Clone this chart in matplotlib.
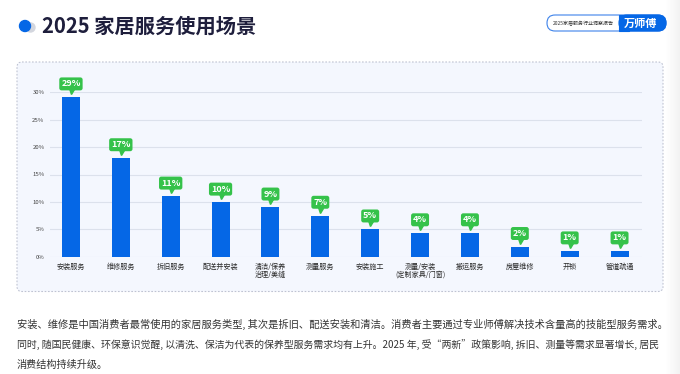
import numpy as np
import matplotlib
matplotlib.use('Agg')
import matplotlib.pyplot as plt
from matplotlib.patches import FancyBboxPatch, Rectangle, Circle
from matplotlib.transforms import offset_copy

plt.rcParams['font.family'] = ['Noto Sans CJK SC', 'DejaVu Sans']

# data
categories = ['安装服务', '维修服务', '拆旧服务', '配送并安装', '清洁/保养\n治理/美缝', '测量服务',
              '安装施工', '测量/安装\n(定制家具/门窗)', '搬运服务', '房屋维修', '开锁', '管道疏通']
shares = [29.1, 18.0, 11.0, 9.9, 9.0, 7.5, 5.0, 4.3, 4.3, 1.8, 1.0, 1.0]
share_labels = ['29%', '17%', '11%', '10%', '9%', '7%', '5%', '4%', '4%', '2%', '1%', '1%']
y_ticks = [0, 5, 10, 15, 20, 25, 30]

title = '2025 家居服务使用场景'
badge_left = '2025家居服务行业洞察报告'
badge_right = '万师傅'
paragraph = [
    '安装、维修是中国消费者最常使用的家居服务类型, 其次是拆旧、配送安装和清洁。消费者主要通过专业师傅解决技术含量高的技能型服务需求。',
    '同时, 随国民健康、环保意识觉醒, 以清洗、保洁为代表的保养型服务需求均有上升。2025 年, 受“两新”政策影响, 拆旧、测量等需求显著增长, 居民',
    '消费结构持续升级。',
]
paragraph_sizes = [7.38, 7.15, 7.3]

BLUE = '#0567E6'
GREEN = '#35C24A'
NAVY = '#1E1E3C'
W, H = 680, 374

fig = plt.figure(figsize=(W / 100, H / 100), dpi=100)
fig.patch.set_facecolor('white')

# decoration layer in pixel coordinates
bg = fig.add_axes([0, 0, 1, 1])
bg.set_xlim(0, W)
bg.set_ylim(H, 0)
bg.axis('off')

# grey shading on the right edge
grad = np.linspace(0, 1, 50).reshape(1, -1)
bg.imshow(grad, extent=(666, 680, H, 0), cmap='Greys', vmin=0, vmax=9, aspect='auto', zorder=0)

# title marker + title
bg.add_patch(Circle((30.5, 27.5), 4.5, color='#d3d6de', zorder=2))
bg.add_patch(Circle((25, 26), 5.5, color=BLUE, zorder=3))
bg.text(42, 26, title, fontsize=14.6, fontweight='bold', color=NAVY, va='center', ha='left')

# report badge
bg.add_patch(FancyBboxPatch((547, 15), 119, 16, boxstyle='round,pad=0,rounding_size=8',
                            fc='white', ec='#3d82ea', lw=0.8, zorder=2))
bg.add_patch(FancyBboxPatch((619, 15), 47, 16, boxstyle='round,pad=0,rounding_size=8',
                            fc=BLUE, ec=BLUE, lw=0.8, zorder=3))
bg.add_patch(Rectangle((619, 15), 10, 16, fc=BLUE, ec=BLUE, lw=0.8, zorder=3))
bg.text(583, 23.3, badge_left, fontsize=3.6, color='#333333', ha='center', va='center', zorder=4)
bg.text(641, 23, badge_right, fontsize=8, color='white', fontweight='bold', ha='center', va='center', zorder=4)

# chart panel
bg.add_patch(FancyBboxPatch((17, 62), 646, 229.5, boxstyle='round,pad=0,rounding_size=5',
                            fc='#F4F7FE', ec='#BFC3D2', lw=0.8, ls=(0, (1.5, 1.5)), zorder=1))

# paragraph
for k, (line, fs) in enumerate(zip(paragraph, paragraph_sizes)):
    bg.text(17, 324.5 + k * 20, line, fontsize=fs, color='#333333', ha='left', va='center')

# bar chart
ax = fig.add_axes([50 / W, (H - 256.7) / H, 592 / W, 164.4 / H])
ax.patch.set_alpha(0)
x = np.arange(len(categories))
ax.bar(x, shares, width=0.36, color=BLUE, zorder=3)
ax.set_xlim(-0.42, len(categories) - 0.55)
ax.set_ylim(0, 30)
ax.set_yticks(y_ticks)
ax.set_yticklabels([f'{t}%' for t in y_ticks], fontsize=4.3, color='#444444')
ax.set_xticks(x)
ax.set_xticklabels(categories, fontsize=5.1, color='#2a2a2a', linespacing=1.0, fontweight='medium')
ax.tick_params(axis='both', length=0)
ax.tick_params(axis='x', pad=4.5)
ax.tick_params(axis='y', pad=4)
ax.grid(axis='y', color='#DCE1EC', lw=0.8, zorder=0)
for s in ax.spines.values():
    s.set_visible(False)

tip = offset_copy(ax.transData, fig=fig, x=0, y=4.3, units='points')
for i, (v, lab) in enumerate(zip(shares, share_labels)):
    ax.plot(i, v, marker='v', ms=3.6, color=GREEN, transform=tip, clip_on=False, zorder=4)
    ax.annotate(lab, xy=(i, v), xytext=(0, 9.6), textcoords='offset points',
                ha='center', va='center', fontsize=6.5, fontweight='bold', color='white',
                bbox=dict(boxstyle='round,pad=0.22,rounding_size=0.25', fc=GREEN, ec='none'),
                zorder=5, annotation_clip=False)

fig.savefig('out.png', dpi=100)
